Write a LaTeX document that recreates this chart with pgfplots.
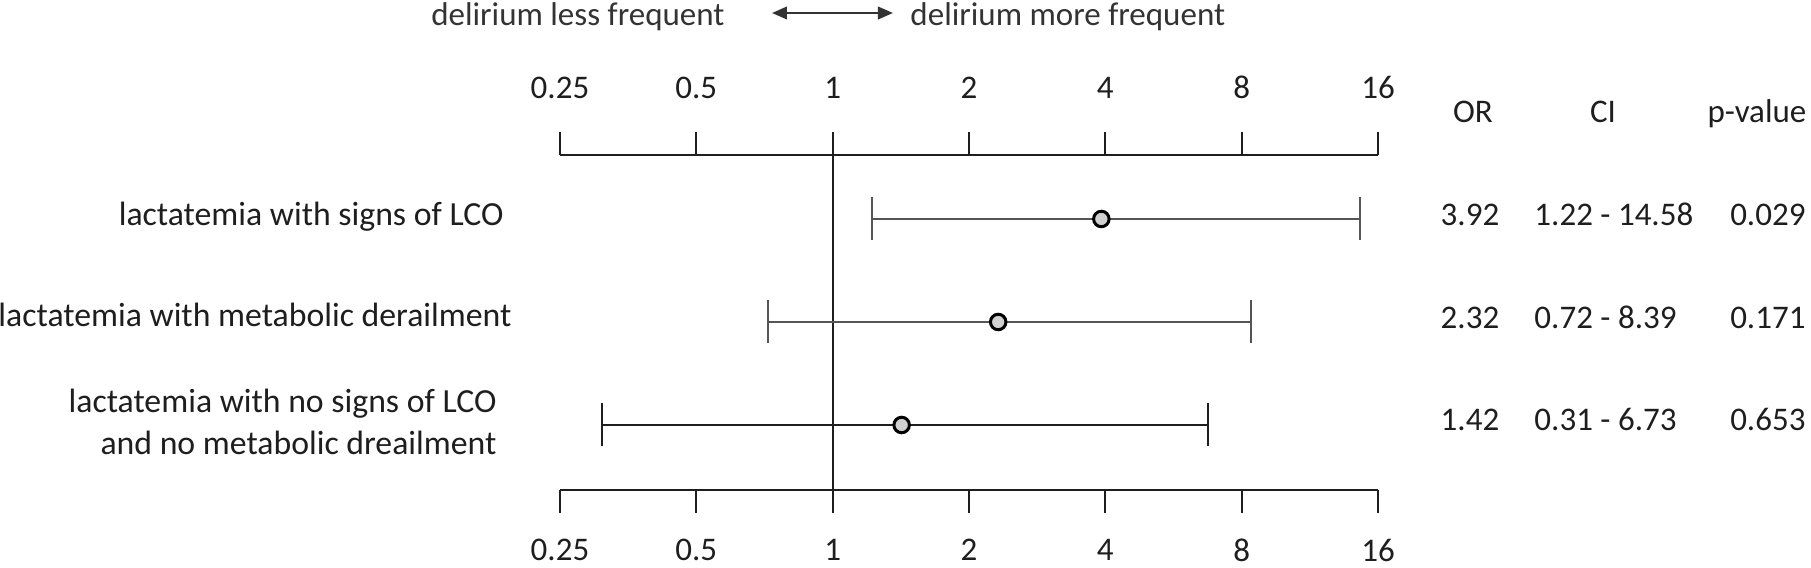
\documentclass[border=0pt]{standalone}
\usepackage{fontspec}
\setmainfont{Carlito}
\usepackage{pgfplots}
\pgfplotsset{compat=1.18}
\usetikzlibrary{arrows.meta}
\definecolor{ink}{RGB}{30,30,30}
\definecolor{cigray}{RGB}{85,85,85}
\definecolor{dotfill}{RGB}{208,208,208}
\definecolor{headgray}{RGB}{51,51,51}
\newcommand{\fs}{\fontsize{13.2}{16}\selectfont}
\newcommand{\fsrow}{\fontsize{13.5}{16}\selectfont}

\begin{document}
\begin{tikzpicture}
% top scale
\begin{axis}[
    xmode=log, log basis x=2,
    xmin=0.25, xmax=16, ymin=0.369, ymax=3.621,
    scale only axis, width=327.2pt, height=134pt,
    axis x line*=top, axis y line=none, ytick=\empty,
    xtick={0.25,0.5,1,2,4,8,16},
    xticklabels={0.25,0.5,1,2,4,8,16},
    tick align=outside, major tick length=9pt,
    axis line style={ink, line width=0.8pt},
    major tick style={ink, line width=0.8pt},
    tick label style={font=\fs, text=ink},
    xticklabel shift=9.9pt,
    clip=false,
  ]
  \addplot[draw=none] coordinates {(1,2)};
\end{axis}
% bottom scale with the estimates
\begin{axis}[
    xmode=log, log basis x=2,
    xmin=0.25, xmax=16, ymin=0.369, ymax=3.621,
    scale only axis, width=327.2pt, height=134pt,
    axis x line*=bottom, axis y line=none, ytick=\empty,
    xtick={0.25,0.5,1,2,4,8,16},
    xticklabels={0.25,0.5,1,2,4,8,16},
    tick align=outside, major tick length=9pt,
    axis line style={ink, line width=0.8pt},
    major tick style={ink, line width=0.8pt},
    tick label style={font=\fs, text=ink},
    xticklabel shift=7.2pt,
    clip=false,
  ]
  \addplot[ink, line width=0.8pt] coordinates {(1,0.155) (1,3.848)};
  % confidence intervals
  \addplot[cigray, line width=0.8pt, mark=|, mark size=8.6pt] coordinates {(1.22,3) (14.58,3)};
  \addplot[cigray, line width=0.8pt, mark=|, mark size=8.6pt] coordinates {(0.72,2) (8.39,2)};
  \addplot[ink, line width=0.8pt, mark=|, mark size=8.6pt] coordinates {(0.31,1) (6.73,1)};
  % odds ratios
  \addplot[only marks, mark=*, mark size=3.1pt,
    mark options={draw=black, fill=dotfill, line width=1.2pt}]
    coordinates {(3.92,3) (2.32,2) (1.42,1)};
\end{axis}

% text around the plot, coordinates in reference pixels
\begin{scope}[x=0.4pt, y=-0.4pt, shift={(-224pt,196pt)}, every node/.style={inner sep=0pt, font=\fs, text=ink}]
  \node[anchor=base east, text=headgray] at (725,26) {delirium less frequent};
  \node[anchor=base west, text=headgray] at (910,26) {delirium more frequent};
  \draw[headgray, line width=0.9pt, {Triangle[length=6pt,width=5pt]}-{Triangle[length=6pt,width=5pt]}] (772,13) -- (893,13);

  \node[anchor=base east, font=\fsrow] at (504,226) {lactatemia with signs of LCO};
  \node[anchor=base east, font=\fsrow] at (512,327) {lactatemia with metabolic derailment};
  \node[anchor=base east, font=\fsrow] at (497,413) {lactatemia with no signs of LCO};
  \node[anchor=base east, font=\fsrow] at (497,455) {and no metabolic dreailment};

  \node[anchor=base] at (1473,123) {OR};
  \node[anchor=base] at (1603,123) {CI};
  \node[anchor=base] at (1757,123) {p-value};

  \node[anchor=base] at (1470,226) {3.92};
  \node[anchor=base] at (1470,329) {2.32};
  \node[anchor=base] at (1470,431) {1.42};
  \node[anchor=base west] at (1534,226) {1.22 - 14.58};
  \node[anchor=base west] at (1534,329) {0.72 - 8.39};
  \node[anchor=base west] at (1534,431) {0.31 - 6.73};
  \node[anchor=base east] at (1806,226) {0.029};
  \node[anchor=base east] at (1806,329) {0.171};
  \node[anchor=base east] at (1806,431) {0.653};
\end{scope}
\pgfresetboundingbox
\path[use as bounding box] (-224pt,-31.2pt) rectangle (500.4pt,196pt);
\end{tikzpicture}
\end{document}
